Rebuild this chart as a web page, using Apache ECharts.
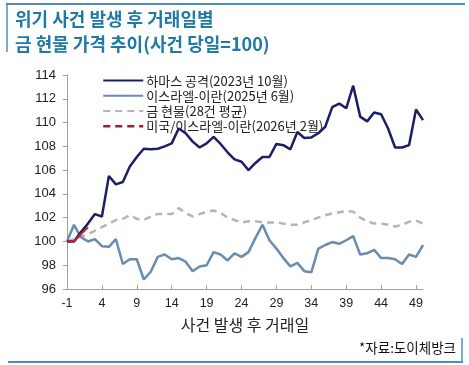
<!DOCTYPE html>
<html><head><meta charset="utf-8">
<script src="https://cdn.jsdelivr.net/npm/echarts@6/dist/echarts.min.js"></script>
<style>html,body{margin:0;padding:0;background:#fff}#c{width:469px;height:365px}</style>
</head><body><div id="c"></div>
<script>
const days = [-1,0,1,2,3,4,5,6,7,8,9,10,11,12,13,14,15,16,17,18,19,20,21,22,23,24,25,26,27,28,29,30,31,32,33,34,35,36,37,38,39,40,41,42,43,44,45,46,47,48,49,50];
const hamas = [100,100,100.8,101.5,102.3,102.1,105.5,104.8,105.0,106.3,107.1,107.8,107.75,107.8,108.0,108.25,109.5,109.1,108.4,107.9,108.25,108.8,108.2,107.5,106.9,106.7,106.0,106.6,107.1,107.1,108.2,108.1,107.75,109.2,108.7,108.75,109.1,109.65,111.3,111.6,111.2,113.1,110.5,110.1,110.85,110.7,109.5,107.9,107.9,108.1,111.1,110.2];
const israelIran = [100,101.4,100.35,100.0,100.2,99.6,99.55,100.2,98.1,98.5,98.5,96.8,97.45,98.7,98.9,98.5,98.6,98.3,97.5,97.9,98.0,99.1,98.9,98.4,99.0,98.7,99.1,100.3,101.4,100.1,99.4,98.6,97.9,98.2,97.5,97.4,99.4,99.7,99.95,99.8,100.1,100.45,98.9,99.0,99.3,98.6,98.6,98.5,98.1,98.9,98.7,99.7];
const goldAvg = [100,100.2,100.4,100.6,100.9,101.2,101.5,101.8,101.9,102.2,101.9,101.8,102.1,102.3,102.3,102.3,102.8,102.4,102.1,102.3,102.5,102.6,102.4,102.0,101.8,101.6,101.7,101.7,101.6,101.6,101.6,101.5,101.4,101.4,101.6,101.8,102.0,102.2,102.35,102.45,102.55,102.5,102.0,101.7,101.5,101.5,101.4,101.25,101.4,101.65,101.75,101.5];
const usIsraelIran = [100,100,100.6,101.2];
const seriesNames = ['하마스 공격(2023년 10월)','이스라엘-이란(2025년 6월)','금 현물(28건 평균)','미국/이스라엘-이란(2026년 2월)'];
const titleLines = ['위기 사건 발생 후 거래일별','금 현물 가격 추이(사건 당일=100)'];
const xName = '사건 발생 후 거래일';
const source = '*자료:도이체방크';

const font = '"Liberation Sans", Arial, sans-serif';
const kr = '"Noto Sans CJK KR", sans-serif';
const chart = echarts.init(document.getElementById('c'), null, {renderer:'canvas'});
const frame = '#4f8fb8';
chart.setOption({
  animation:false,
  backgroundColor:'#fff',
  title:{text: titleLines.join('\n'), left:10, top:2,
    textStyle:{color:'#1f7aa6', fontSize:18, fontWeight:'bold', fontFamily:kr, lineHeight:25}},
  graphic:[
    {type:'line', shape:{x1:6,y1:4,x2:465,y2:4}, style:{stroke:frame, lineWidth:2}},
    {type:'line', shape:{x1:7,y1:4,x2:7,y2:52}, style:{stroke:frame, lineWidth:1.5}},
    {type:'line', shape:{x1:8,y1:362,x2:463,y2:362}, style:{stroke:frame, lineWidth:2}},
    {type:'line', shape:{x1:462,y1:338,x2:462,y2:362}, style:{stroke:frame, lineWidth:1.5}},
    {type:'text', right:13, top:341, style:{text:source, fill:'#111', font:'13.5px '+kr}}
  ],
  legend:{orient:'vertical', left:97, top:68, itemWidth:40, itemHeight:10, itemGap:0,
    itemStyle:{opacity:0},
    textStyle:{fontSize:13, color:'#222', fontFamily:kr, lineHeight:15.2, padding:[0,0,0,-2]},
    data:[
      {name:seriesNames[0]},
      {name:seriesNames[1]},
      {name:seriesNames[2]},
      {name:seriesNames[3], lineStyle:{type:[7,5], width:2.5, color:'#a11d24'}}
    ]},
  grid:{left:67, right:46, top:75, bottom:76},
  xAxis:{type:'category', data:days, boundaryGap:false,
    name:xName, nameLocation:'middle', nameGap:28,
    nameTextStyle:{fontSize:16, color:'#222', fontFamily:kr},
    axisLine:{lineStyle:{color:'#a0a0a0'}},
    axisTick:{interval:4, length:4, inside:true, lineStyle:{color:'#a0a0a0'}},
    axisLabel:{interval:4, color:'#222', fontSize:12.5, fontFamily:font, margin:8}},
  yAxis:{type:'value', min:96, max:114, interval:2,
    axisLine:{show:true, lineStyle:{color:'#a0a0a0'}},
    axisTick:{show:true, length:4, lineStyle:{color:'#a0a0a0'}},
    splitLine:{show:false},
    axisLabel:{color:'#222', fontSize:13, fontFamily:font, margin:11}},
  series:[
    {name:seriesNames[0], type:'line', data:hamas, symbol:'none', color:'#1c1f66', lineStyle:{width:2.5, color:'#1c1f66'}, z:4},
    {name:seriesNames[1], type:'line', data:israelIran, symbol:'none', color:'#6a8cb2', lineStyle:{width:2.5, color:'#6a8cb2'}, z:3},
    {name:seriesNames[2], type:'line', data:goldAvg, symbol:'none', color:'#b5b5b5', lineStyle:{width:2.5, color:'#b5b5b5', type:[7,5]}, z:2},
    {name:seriesNames[3], type:'line', data:usIsraelIran, symbol:'none', color:'#a11d24', lineStyle:{width:2, color:'#c0262d'}, z:5}
  ]
});
</script></body></html>
